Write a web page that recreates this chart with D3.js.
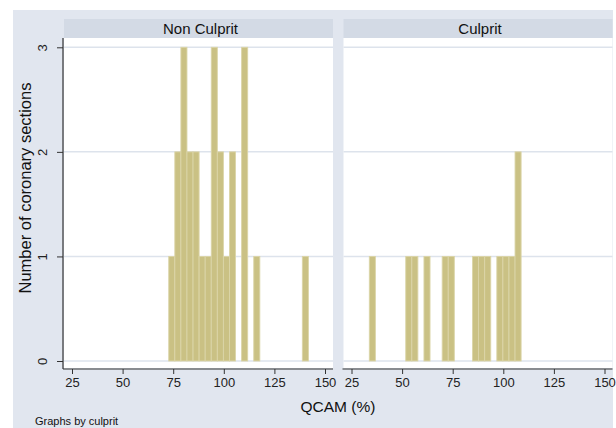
<!DOCTYPE html>
<html>
<head>
<meta charset="utf-8">
<script src="https://cdn.jsdelivr.net/npm/d3@7"></script>
<style>
  body { margin: 0; background: #fff; }
  svg { display: block; font-family: "Liberation Sans", Arial, sans-serif; }
</style>
</head>
<body>
<div id="chart"></div>
<script>
// histogram bins (QCAM %), shared by both panels
var binStart = 33.8;
var binWidth = 3;
var panels = ["Non Culprit", "Culprit"];
var nonCulpritCounts = [0,0,0,0,0,0,0,0,0,0,0,0,0,1,2,3,2,2,1,1,3,2,1,2,0,3,0,1,0,0,0,0,0,0,0,1];
var culpritCounts    = [1,0,0,0,0,0,1,1,0,1,0,0,1,1,0,0,0,1,1,1,0,1,1,1,2];
var xTicks = [25, 50, 75, 100, 125, 150];
var yTicks = [0, 1, 2, 3];

var width = 616, height = 428;
var svg = d3.select("#chart").append("svg")
    .attr("width", width)
    .attr("height", height);

// graph region
svg.append("rect")
    .attr("x", 13).attr("y", 10)
    .attr("width", 600).attr("height", 418)
    .attr("fill", "#e1e6ef");

var panelX = [64, 343.5];
var panelW = 269;
var stripTop = 19, plotTop = 38, plotBottom = 368;
var axisY = 369;

var y = d3.scaleLinear().domain([0, 3]).range([361, 47.3]);

var allCounts = [nonCulpritCounts, culpritCounts];

panels.forEach(function(name, p) {
    var x0 = panelX[p];
    var x = d3.scaleLinear().domain([25, 150]).range([x0 + 8, x0 + 261]);
    var g = svg.append("g");

    // strip header
    g.append("rect")
        .attr("x", x0).attr("y", stripTop)
        .attr("width", panelW).attr("height", plotTop - stripTop)
        .attr("fill", "#d3dae5");
    g.append("text")
        .attr("x", x0 + panelW / 2 + 2).attr("y", stripTop + 15)
        .attr("text-anchor", "middle")
        .attr("font-size", 15)
        .attr("fill", "#111")
        .text(name);

    // plot area
    g.append("rect")
        .attr("x", x0).attr("y", plotTop)
        .attr("width", panelW).attr("height", plotBottom - plotTop)
        .attr("fill", "#fff");

    // gridlines
    g.selectAll(".grid").data(yTicks).enter().append("line")
        .attr("x1", x0).attr("x2", x0 + panelW)
        .attr("y1", function(d) { return y(d); })
        .attr("y2", function(d) { return y(d); })
        .attr("stroke", "#dde3ec")
        .attr("stroke-width", 1.5);

    // bars
    var bins = allCounts[p].map(function(c, i) {
        return { lo: binStart + i * binWidth, hi: binStart + (i + 1) * binWidth, n: c };
    }).filter(function(d) { return d.n > 0; });

    g.selectAll(".bar").data(bins).enter().append("rect")
        .attr("x", function(d) { return x(d.lo); })
        .attr("width", function(d) { return x(d.hi) - x(d.lo); })
        .attr("y", function(d) { return y(d.n); })
        .attr("height", function(d) { return y(0) - y(d.n); })
        .attr("fill", "#cac184")
        .attr("stroke", "#dbd5a8")
        .attr("stroke-width", 0.9);

    // x axis
    var xAxis = d3.axisBottom(x).tickValues(xTicks).tickSize(5).tickPadding(4);
    var ax = g.append("g")
        .attr("transform", "translate(0," + axisY + ")")
        .call(xAxis);
    ax.select(".domain").remove();
    ax.selectAll(".tick line").attr("stroke", "#333");
    ax.selectAll(".tick text")
        .attr("font-size", 13)
        .attr("fill", "#222")
        .attr("font-family", "Liberation Sans, Arial, sans-serif");
    g.append("line")
        .attr("x1", x0 - 1).attr("x2", x0 + panelW)
        .attr("y1", axisY).attr("y2", axisY)
        .attr("stroke", "#333").attr("stroke-width", 1.2);
});

// y axis on the first panel
var yAxis = d3.axisLeft(y).tickValues(yTicks).tickFormat(d3.format("d")).tickSize(6).tickPadding(0);
var ay = svg.append("g")
    .attr("transform", "translate(63,0)")
    .call(yAxis);
ay.select(".domain").remove();
ay.selectAll(".tick line").attr("stroke", "#333");
ay.selectAll(".tick text")
    .attr("font-size", 13)
    .attr("fill", "#222")
    .attr("font-family", "Liberation Sans, Arial, sans-serif")
    .attr("text-anchor", "middle")
    .attr("dy", 0)
    .attr("x", 0)
    .attr("transform", "translate(-16,0) rotate(-90)");
svg.append("line")
    .attr("x1", 63).attr("x2", 63)
    .attr("y1", plotTop).attr("y2", axisY)
    .attr("stroke", "#333").attr("stroke-width", 1.2);

// axis titles
svg.append("text")
    .attr("x", 338).attr("y", 412)
    .attr("text-anchor", "middle")
    .attr("font-size", 15.5)
    .attr("fill", "#111")
    .text("QCAM (%)");

svg.append("text")
    .attr("transform", "translate(31,188) rotate(-90)")
    .attr("text-anchor", "middle")
    .attr("font-size", 16.5)
    .attr("fill", "#111")
    .text("Number of coronary sections");

svg.append("text")
    .attr("x", 35).attr("y", 425)
    .attr("font-size", 11)
    .attr("fill", "#111")
    .text("Graphs by culprit");
</script>
</body>
</html>
